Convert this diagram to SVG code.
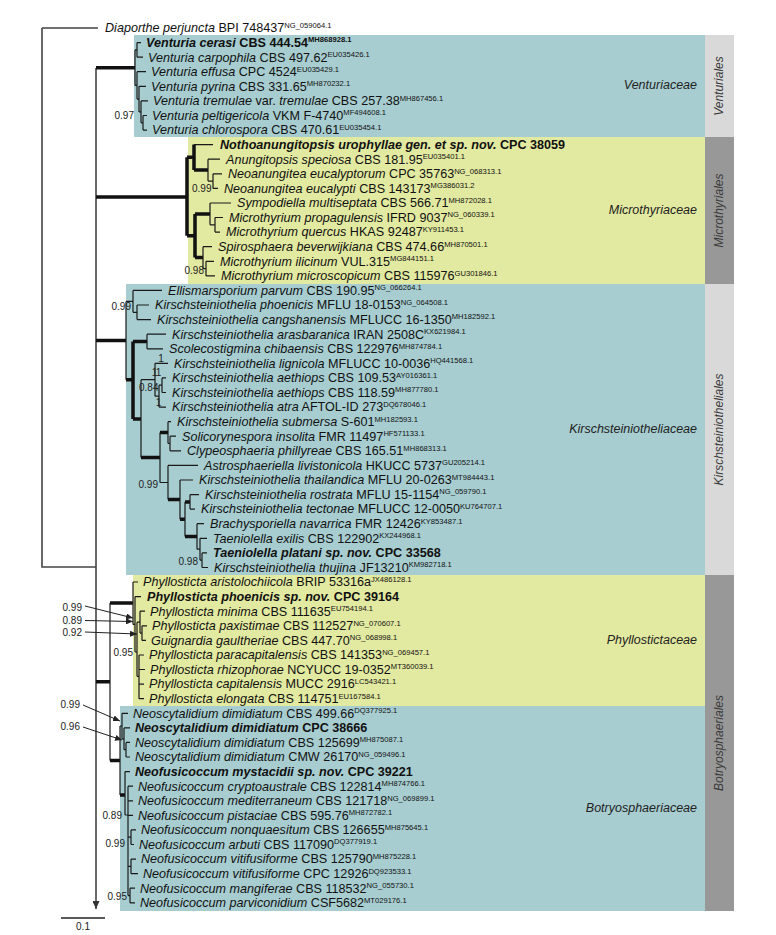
<svg xmlns="http://www.w3.org/2000/svg" width="776" height="935" viewBox="0 0 776 935">
<style>
.tx{font-family:"Liberation Sans",Arial,sans-serif;font-size:12.6px;fill:#111}
.i{font-style:italic}
.b{font-weight:bold}
.sup{font-size:7.6px}
.lbl{font-family:"Liberation Sans",Arial,sans-serif;font-size:10px;fill:#222}
.end{text-anchor:end}
.mid{text-anchor:middle}
.fam{font-family:"Liberation Sans",Arial,sans-serif;font-style:italic;font-size:12.5px;fill:#222;text-anchor:end}
.ord{font-family:"Liberation Sans",Arial,sans-serif;font-style:italic;font-size:12px;fill:#3a3a3a;text-anchor:middle}
.teal{fill:#A7CDD0}
.yel{fill:#E2E9A0}
.lg{fill:#D9D9D9}
.dg{fill:#989898}
.thin{stroke:#1a1a1a;stroke-width:1.2;fill:none}
.thick{stroke:#111;stroke-width:3.5;fill:none}
.stem{stroke:#444;stroke-width:1.6;fill:none}
.arr{stroke:#222;stroke-width:1;fill:none;marker-end:url(#ah)}
</style>
<defs>
<marker id="ah" markerWidth="7" markerHeight="6" refX="7" refY="3" orient="auto" markerUnits="userSpaceOnUse"><path d="M0,0 L7,3 L0,6 z" fill="#222"/></marker>
<marker id="ah2" markerWidth="8" markerHeight="7" refX="8" refY="3.5" orient="auto" markerUnits="userSpaceOnUse"><path d="M0,0 L8,3.5 L0,7 z" fill="#333"/></marker>
</defs>
<rect width="776" height="935" fill="#fff"/>

<g id="box-venturiaceae"><rect class="teal" x="134" y="35" width="571" height="102"/><text class="fam" x="697" y="89">Venturiaceae</text></g>
<g id="box-microthyriaceae"><rect class="yel" x="188" y="137" width="517" height="147"/><text class="fam" x="697" y="214">Microthyriaceae</text></g>
<g id="box-kirschsteiniotheliaceae"><rect class="teal" x="126" y="284" width="579" height="291"/><text class="fam" x="697" y="433">Kirschsteiniotheliaceae</text></g>
<g id="box-phyllostictaceae"><rect class="yel" x="133" y="575" width="572" height="131"/><text class="fam" x="697" y="644">Phyllostictaceae</text></g>
<g id="box-botryosphaeriaceae"><rect class="teal" x="120" y="706" width="585" height="205"/><text class="fam" x="697" y="812">Botryosphaeriaceae</text></g>

<g id="ord-venturiales"><rect class="lg" x="705" y="35" width="29" height="102"/><text class="ord" transform="translate(723,86) rotate(-90)">Venturiales</text></g>
<g id="ord-microthyriales"><rect class="dg" x="705" y="137" width="29" height="147"/><text class="ord" transform="translate(723,210.5) rotate(-90)">Microthyriales</text></g>
<g id="ord-kirschsteiniotheliales"><rect class="lg" x="705" y="284" width="29" height="291"/><text class="ord" transform="translate(723,429.5) rotate(-90)">Kirschsteiniotheliales</text></g>
<g id="ord-botryosphaeriales"><rect class="dg" x="705" y="575" width="29" height="336"/><text class="ord" transform="translate(723,743) rotate(-90)">Botryosphaeriales</text></g>

<g id="connectors">
<path class="stem" d="M42,28H98 M42,28V567H96"/>
<path class="stem" d="M96,68V909" marker-end="url(#ah2)"/>
<path class="thick" d="M96,67.7H135 M96,197H187 M187,157.3V235.8 M187,157.3H194 M194,144.6V170 M194,170H208 M187,235.8H195 M195,214V257.6 M195,214H210 M195,257.6H203 M96,340.5H126 M126,379.7H133 M133,341.5V418.9 M133,341.5H147 M133,418.9H141 M141,457.6H160 M160,432.6H168 M168,499.6H180 M180,519.2H185 M185,501.9H190 M185,536.5H197 M96,681.7H110 M110,603H133 M110,760.5H120 M120,795H125"/>
<path class="thin" d="M135,49.9V85.4 M135,49.9H137 M137,42.6V57.2 M137,42.6H141 M137,57.2H143 M135,85.4H137 M137,71.7V99.1 M137,71.7H146 M137,99.1H139 M139,86.3V111.9 M139,86.3H146 M139,111.9H141 M141,100.9V122.8 M141,100.9H148 M141,122.8H143 M143,115.5V130.1 M143,115.5H147 M143,130.1H147"/>
<path class="thin" d="M194,144.6H213 M208,159.2V181.1 M208,159.2H220 M208,181.1H213 M213,173.8V188.4 M213,173.8H222 M213,188.4H218 M210,203V224.8 M210,203H231 M210,224.8H215 M215,217.5V232.1 M215,217.5H223 M215,232.1H220 M203,246.7V268.6 M203,246.7H212 M203,268.6H206 M206,261.3V275.9 M206,261.3H214 M206,275.9H215"/>
<path class="thin" d="M126,301.4V379.7 M126,301.4H133 M133,290.4V312.3 M133,290.4H162 M133,312.3H137 M137,305V319.6 M137,305H149 M137,319.6H151 M147,334.2V348.8 M147,334.2H166 M147,348.8H163 M141,379.7V457.6 M141,379.7H155 M155,363.3V396.2 M155,363.3H168 M155,396.2H159 M159,385.2V407.1 M159,407.1H166 M159,385.2H162 M162,377.9V392.5 M162,377.9H166 M162,392.5H166 M160,432.6V482.5 M168,421.7V443.5 M168,421.7H171 M168,443.5H170 M170,436.2V450.8 M170,436.2H176 M170,450.8H181 M160,482.5H168 M168,465.4V499.6 M168,465.4H198 M180,480V519.2 M180,480H193 M185,501.9V536.5 M190,494.6V509.1 M190,494.6H199 M190,509.1H195 M197,523.7V549.2 M197,523.7H204 M197,549.2H200 M200,538.3V560.2 M200,538.3H207 M200,560.2H202 M202,552.9V567.5 M202,552.9H207 M202,567.5H208"/>
<path class="thin" d="M110,603V760.5 M133,582V624.4 M133,582H138 M133,624.4H135 M135,596.6V652 M135,596.6H141 M135,652H137 M137,622.2V676.3 M137,622.2H140 M140,611.2V633.1 M140,611.2H145 M140,633.1H142 M142,625.8V640.4 M142,625.8H147 M142,640.4H146 M137,676.3H139 M139,655V698.7 M139,655H144 M139,669.5H145 M139,684.1H144 M139,698.7H144"/>
<path class="thin" d="M120,726V795 M120,726H122 M122,713.3V738.8 M122,713.3H128 M122,738.8H124 M124,727.9V749.7 M124,727.9H130 M124,749.7H126 M126,742.4V757 M126,742.4H130 M126,757H130 M125,771.6V815 M125,771.6H130 M125,815H128 M128,786.2V895.6 M128,786.2H133 M128,800.8H133 M128,815.3H133 M128,837.2H131 M131,829.9V844.5 M131,829.9H136 M131,844.5H134 M128,866.4H131 M131,859.1V873.7 M131,859.1H136 M131,873.7H138 M128,895.6H130 M130,888.2V902.8 M130,888.2H135 M130,902.8H135"/>
<path class="arr" d="M85,606L133,618"/>
<path class="arr" d="M85,620.5L133,621.5"/>
<path class="arr" d="M85,632L137,634"/>
<path class="arr" d="M83,705L120,721"/>
<path class="arr" d="M83,727L122,740"/>
<path d="M61,918H105" stroke="#222" stroke-width="1.3"/>
</g>

<g id="support">
<text class="lbl end" x="134" y="118.5">0.97</text>
<text class="lbl end" x="211.5" y="192">0.99</text>
<text class="lbl end" x="204" y="273.5">0.98</text>
<text class="lbl end" x="131" y="309.5">0.99</text>
<text class="lbl mid" x="161" y="361.5">1</text>
<text class="lbl mid" x="154.5" y="375.5">1</text>
<text class="lbl mid" x="158.5" y="375.5">1</text>
<text class="lbl end" x="158.5" y="390.5">0.84</text>
<text class="lbl mid" x="158.5" y="405.5">1</text>
<text class="lbl end" x="158" y="487.5">0.99</text>
<text class="lbl end" x="198" y="564.5">0.98</text>
<text class="lbl end" x="82" y="610.5">0.99</text>
<text class="lbl end" x="82" y="624">0.89</text>
<text class="lbl end" x="82" y="635.5">0.92</text>
<text class="lbl end" x="133" y="655.5">0.95</text>
<text class="lbl end" x="80" y="708">0.99</text>
<text class="lbl end" x="80" y="730">0.96</text>
<text class="lbl end" x="122" y="818.5">0.89</text>
<text class="lbl end" x="125" y="846.5">0.99</text>
<text class="lbl end" x="127" y="899.5">0.95</text>
<text class="lbl mid" x="83" y="930">0.1</text>
</g>

<g id="t0"><text class="tx" x="105" y="32.3"><tspan class="i">Diaporthe perjuncta</tspan> BPI 748437<tspan class="sup" dy="-4.5">NG_059064.1</tspan></text></g>
<g id="t1"><text class="tx b" x="146" y="46.9"><tspan class="i">Venturia cerasi</tspan> CBS 444.54<tspan class="sup" dy="-4.5">MH868928.1</tspan></text></g>
<g id="t2"><text class="tx" x="148" y="61.5"><tspan class="i">Venturia carpophila</tspan> CBS 497.62<tspan class="sup" dy="-4.5">EU035426.1</tspan></text></g>
<g id="t3"><text class="tx" x="151" y="76"><tspan class="i">Venturia effusa</tspan> CPC 4524<tspan class="sup" dy="-4.5">EU035429.1</tspan></text></g>
<g id="t4"><text class="tx" x="151" y="90.6"><tspan class="i">Venturia pyrina</tspan> CBS 331.65<tspan class="sup" dy="-4.5">MH870232.1</tspan></text></g>
<g id="t5"><text class="tx" x="153" y="105.2"><tspan class="i">Venturia tremulae</tspan> var. <tspan class="i">tremulae</tspan> CBS 257.38<tspan class="sup" dy="-4.5">MH867456.1</tspan></text></g>
<g id="t6"><text class="tx" x="152" y="119.8"><tspan class="i">Venturia peltigericola</tspan> VKM F-4740<tspan class="sup" dy="-4.5">MF494608.1</tspan></text></g>
<g id="t7"><text class="tx" x="152" y="134.4"><tspan class="i">Venturia chlorospora</tspan> CBS 470.61<tspan class="sup" dy="-4.5">EU035454.1</tspan></text></g>
<g id="t8"><text class="tx b" x="220" y="148.9"><tspan class="i">Nothoanungitopsis urophyllae gen. et sp. nov.</tspan> CPC 38059</text></g>
<g id="t9"><text class="tx" x="226" y="163.5"><tspan class="i">Anungitopsis speciosa</tspan> CBS 181.95<tspan class="sup" dy="-4.5">EU035401.1</tspan></text></g>
<g id="t10"><text class="tx" x="228" y="178.1"><tspan class="i">Neoanungitea eucalyptorum</tspan> CPC 35763<tspan class="sup" dy="-4.5">NG_068313.1</tspan></text></g>
<g id="t11"><text class="tx" x="224" y="192.7"><tspan class="i">Neoanungitea eucalypti</tspan> CBS 143173<tspan class="sup" dy="-4.5">MG386031.2</tspan></text></g>
<g id="t12"><text class="tx" x="237" y="207.3"><tspan class="i">Sympodiella multiseptata</tspan> CBS 566.71<tspan class="sup" dy="-4.5">MH872028.1</tspan></text></g>
<g id="t13"><text class="tx" x="229" y="221.8"><tspan class="i">Microthyrium propagulensis</tspan> IFRD 9037<tspan class="sup" dy="-4.5">NG_060339.1</tspan></text></g>
<g id="t14"><text class="tx" x="226" y="236.4"><tspan class="i">Microthyrium quercus</tspan> HKAS 92487<tspan class="sup" dy="-4.5">KY911453.1</tspan></text></g>
<g id="t15"><text class="tx" x="218" y="251"><tspan class="i">Spirosphaera beverwijkiana</tspan> CBS 474.66<tspan class="sup" dy="-4.5">MH870501.1</tspan></text></g>
<g id="t16"><text class="tx" x="220" y="265.6"><tspan class="i">Microthyrium ilicinum</tspan> VUL.315<tspan class="sup" dy="-4.5">MG844151.1</tspan></text></g>
<g id="t17"><text class="tx" x="221" y="280.2"><tspan class="i">Microthyrium microscopicum</tspan> CBS 115976<tspan class="sup" dy="-4.5">GU301846.1</tspan></text></g>
<g id="t18"><text class="tx" x="168" y="294.7"><tspan class="i">Ellismarsporium parvum</tspan> CBS 190.95<tspan class="sup" dy="-4.5">NG_066264.1</tspan></text></g>
<g id="t19"><text class="tx" x="155" y="309.3"><tspan class="i">Kirschsteiniothelia phoenicis</tspan> MFLU 18-0153<tspan class="sup" dy="-4.5">NG_064508.1</tspan></text></g>
<g id="t20"><text class="tx" x="157" y="323.9"><tspan class="i">Kirschsteiniothelia cangshanensis</tspan> MFLUCC 16-1350<tspan class="sup" dy="-4.5">MH182592.1</tspan></text></g>
<g id="t21"><text class="tx" x="172" y="338.5"><tspan class="i">Kirschsteiniothelia arasbaranica</tspan> IRAN 2508C<tspan class="sup" dy="-4.5">KX621984.1</tspan></text></g>
<g id="t22"><text class="tx" x="169" y="353.1"><tspan class="i">Scolecostigmina chibaensis</tspan> CBS 122976<tspan class="sup" dy="-4.5">MH874784.1</tspan></text></g>
<g id="t23"><text class="tx" x="174" y="367.6"><tspan class="i">Kirschsteiniothelia lignicola</tspan> MFLUCC 10-0036<tspan class="sup" dy="-4.5">HQ441568.1</tspan></text></g>
<g id="t24"><text class="tx" x="172" y="382.2"><tspan class="i">Kirschsteiniothelia aethiops</tspan> CBS 109.53<tspan class="sup" dy="-4.5">AY016361.1</tspan></text></g>
<g id="t25"><text class="tx" x="172" y="396.8"><tspan class="i">Kirschsteiniothelia aethiops</tspan> CBS 118.59<tspan class="sup" dy="-4.5">MH877780.1</tspan></text></g>
<g id="t26"><text class="tx" x="172" y="411.4"><tspan class="i">Kirschsteiniothelia atra</tspan> AFTOL-ID 273<tspan class="sup" dy="-4.5">DQ678046.1</tspan></text></g>
<g id="t27"><text class="tx" x="177" y="426"><tspan class="i">Kirschsteiniothelia submersa</tspan> S-601<tspan class="sup" dy="-4.5">MH182593.1</tspan></text></g>
<g id="t28"><text class="tx" x="182" y="440.5"><tspan class="i">Solicorynespora insolita</tspan> FMR 11497<tspan class="sup" dy="-4.5">HF571133.1</tspan></text></g>
<g id="t29"><text class="tx" x="187" y="455.1"><tspan class="i">Clypeosphaeria phillyreae</tspan> CBS 165.51<tspan class="sup" dy="-4.5">MH868313.1</tspan></text></g>
<g id="t30"><text class="tx" x="204" y="469.7"><tspan class="i">Astrosphaeriella livistonicola</tspan> HKUCC 5737<tspan class="sup" dy="-4.5">GU205214.1</tspan></text></g>
<g id="t31"><text class="tx" x="199" y="484.3"><tspan class="i">Kirschsteiniothelia thailandica</tspan> MFLU 20-0263<tspan class="sup" dy="-4.5">MT984443.1</tspan></text></g>
<g id="t32"><text class="tx" x="205" y="498.9"><tspan class="i">Kirschsteiniothelia rostrata</tspan> MFLU 15-1154<tspan class="sup" dy="-4.5">NG_059790.1</tspan></text></g>
<g id="t33"><text class="tx" x="201" y="513.4"><tspan class="i">Kirschsteiniothelia tectonae</tspan> MFLUCC 12-0050<tspan class="sup" dy="-4.5">KU764707.1</tspan></text></g>
<g id="t34"><text class="tx" x="210" y="528"><tspan class="i">Brachysporiella navarrica</tspan> FMR 12426<tspan class="sup" dy="-4.5">KY853487.1</tspan></text></g>
<g id="t35"><text class="tx" x="213" y="542.6"><tspan class="i">Taeniolella exilis</tspan> CBS 122902<tspan class="sup" dy="-4.5">KX244968.1</tspan></text></g>
<g id="t36"><text class="tx b" x="213" y="557.2"><tspan class="i">Taeniolella platani sp. nov.</tspan> CPC 33568</text></g>
<g id="t37"><text class="tx" x="214" y="571.8"><tspan class="i">Kirschsteiniothelia thujina</tspan> JF13210<tspan class="sup" dy="-4.5">KM982718.1</tspan></text></g>
<g id="t38"><text class="tx" x="143" y="586.3"><tspan class="i">Phyllosticta aristolochiicola</tspan> BRIP 53316a<tspan class="sup" dy="-4.5">JX486128.1</tspan></text></g>
<g id="t39"><text class="tx b" x="147" y="600.9"><tspan class="i">Phyllosticta phoenicis sp. nov.</tspan> CPC 39164</text></g>
<g id="t40"><text class="tx" x="150" y="615.5"><tspan class="i">Phyllosticta minima</tspan> CBS 111635<tspan class="sup" dy="-4.5">EU754194.1</tspan></text></g>
<g id="t41"><text class="tx" x="152" y="630.1"><tspan class="i">Phyllosticta paxistimae</tspan> CBS 112527<tspan class="sup" dy="-4.5">NG_070607.1</tspan></text></g>
<g id="t42"><text class="tx" x="151" y="644.7"><tspan class="i">Guignardia gaultheriae</tspan> CBS 447.70<tspan class="sup" dy="-4.5">NG_068998.1</tspan></text></g>
<g id="t43"><text class="tx" x="149" y="659.3"><tspan class="i">Phyllosticta paracapitalensis</tspan> CBS 141353<tspan class="sup" dy="-4.5">NG_069457.1</tspan></text></g>
<g id="t44"><text class="tx" x="150" y="673.8"><tspan class="i">Phyllosticta rhizophorae</tspan> NCYUCC 19-0352<tspan class="sup" dy="-4.5">MT360039.1</tspan></text></g>
<g id="t45"><text class="tx" x="149" y="688.4"><tspan class="i">Phyllosticta capitalensis</tspan> MUCC 2916<tspan class="sup" dy="-4.5">LC543421.1</tspan></text></g>
<g id="t46"><text class="tx" x="149" y="703"><tspan class="i">Phyllosticta elongata</tspan> CBS 114751<tspan class="sup" dy="-4.5">EU167584.1</tspan></text></g>
<g id="t47"><text class="tx" x="133" y="717.6"><tspan class="i">Neoscytalidium dimidiatum</tspan> CBS 499.66<tspan class="sup" dy="-4.5">DQ377925.1</tspan></text></g>
<g id="t48"><text class="tx b" x="135" y="732.2"><tspan class="i">Neoscytalidium dimidiatum</tspan> CPC 38666</text></g>
<g id="t49"><text class="tx" x="135" y="746.7"><tspan class="i">Neoscytalidium dimidiatum</tspan> CBS 125699<tspan class="sup" dy="-4.5">MH875087.1</tspan></text></g>
<g id="t50"><text class="tx" x="135" y="761.3"><tspan class="i">Neoscytalidium dimidiatum</tspan> CMW 26170<tspan class="sup" dy="-4.5">NG_059496.1</tspan></text></g>
<g id="t51"><text class="tx b" x="135" y="775.9"><tspan class="i">Neofusicoccum mystacidii sp. nov.</tspan> CPC 39221</text></g>
<g id="t52"><text class="tx" x="138" y="790.5"><tspan class="i">Neofusicoccum cryptoaustrale</tspan> CBS 122814<tspan class="sup" dy="-4.5">MH874766.1</tspan></text></g>
<g id="t53"><text class="tx" x="138" y="805.1"><tspan class="i">Neofusicoccum mediterraneum</tspan> CBS 121718<tspan class="sup" dy="-4.5">NG_069899.1</tspan></text></g>
<g id="t54"><text class="tx" x="138" y="819.6"><tspan class="i">Neofusicoccum pistaciae</tspan> CBS 595.76<tspan class="sup" dy="-4.5">MH872782.1</tspan></text></g>
<g id="t55"><text class="tx" x="141" y="834.2"><tspan class="i">Neofusicoccum nonquaesitum</tspan> CBS 126655<tspan class="sup" dy="-4.5">MH875645.1</tspan></text></g>
<g id="t56"><text class="tx" x="139" y="848.8"><tspan class="i">Neofusicoccum arbuti</tspan> CBS 117090<tspan class="sup" dy="-4.5">DQ377919.1</tspan></text></g>
<g id="t57"><text class="tx" x="141" y="863.4"><tspan class="i">Neofusicoccum vitifusiforme</tspan> CBS 125790<tspan class="sup" dy="-4.5">MH875228.1</tspan></text></g>
<g id="t58"><text class="tx" x="143" y="878"><tspan class="i">Neofusicoccum vitifusiforme</tspan> CPC 12926<tspan class="sup" dy="-4.5">DQ923533.1</tspan></text></g>
<g id="t59"><text class="tx" x="140" y="892.5"><tspan class="i">Neofusicoccum mangiferae</tspan> CBS 118532<tspan class="sup" dy="-4.5">NG_055730.1</tspan></text></g>
<g id="t60"><text class="tx" x="140" y="907.1"><tspan class="i">Neofusicoccum parviconidium</tspan> CSF5682<tspan class="sup" dy="-4.5">MT029176.1</tspan></text></g>
</svg>
